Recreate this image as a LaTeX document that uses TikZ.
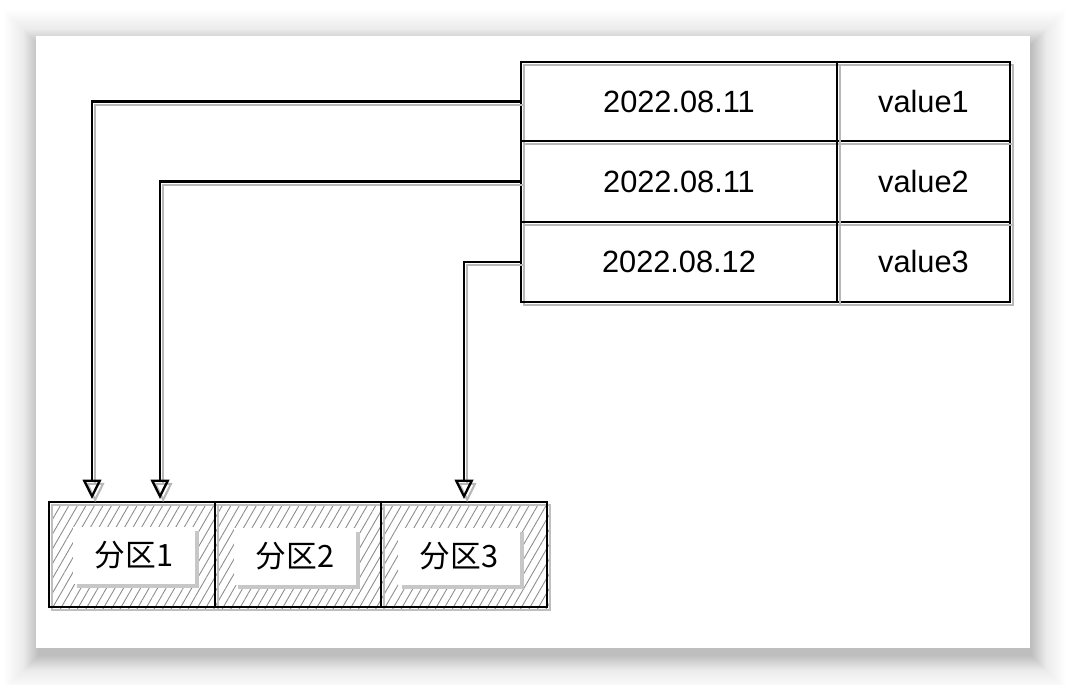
\documentclass[tikz,border=0pt]{standalone}
\usepackage{fontspec}
\setmainfont{Liberation Sans}
\newfontfamily\cjk{Noto Sans CJK SC}
\usetikzlibrary{arrows.meta,patterns.meta}

\tikzset{
  ghost/.style = {preaction={draw=black!28, line width=1.2pt, transform canvas={xshift=1.8pt,yshift=-1.8pt}}},
  cell/.style = {inner sep=0pt, minimum height=1.6cm, font=\fontsize{17.5}{21}\selectfont},
  part/.style = {draw, line width=1.3pt, minimum width=3.32cm, minimum height=2.1cm,
    preaction={draw=black!25, line width=1pt, pattern={Lines[angle=60,distance=4.2pt,line width=0.5pt]},
      pattern color=black!45, transform canvas={xshift=1.8pt,yshift=-1.8pt}}},
  tag/.style = {fill=white, minimum width=2.44cm, minimum height=1.14cm, inner sep=0pt,
    font=\cjk\fontsize{17.5}{21}\selectfont,
    preaction={fill=black!22, transform canvas={xshift=2.4pt,yshift=-2.4pt}}},
  link/.style = {line width=1.3pt, -{Triangle[open, length=11pt, width=10.5pt]}, ghost}
}

\begin{document}
\begin{tikzpicture}[x=0.02cm, y=-0.02cm]
    \useasboundingbox (0,0) rectangle (1066,684);
    % card with soft shadow
    \foreach \i in {0,...,34}
      \fill [black, opacity=0.004] (36-\i+2,36-\i+8) rectangle (1030+\i+2,648+\i+8);
    \foreach \i in {0,...,14}
      \fill [black, opacity=0.008] (36-\i+2,36-\i+8) rectangle (1030+\i+2,648+\i+8);
    \fill [white] (36,36) rectangle (1030,648);

    % table
    \draw [line width=1.3pt, ghost] (521,62) rectangle (1010,302);
    \draw [line width=1.3pt, ghost] (521,141) -- (1010,141) (521,222) -- (1010,222);
    \draw [line width=1.3pt, ghost] (837,62) -- (837,302);
    \node (d1) [cell, minimum width=6.32cm] at (679,101.5) {2022.08.11};
    \node (d2) [cell, minimum width=6.32cm] at (679,181.5) {2022.08.11};
    \node (d3) [cell, minimum width=6.32cm] at (679,262) {2022.08.12};
    \node (v1) [cell] at (923.5,101.5) {value1};
    \node (v2) [cell] at (923.5,181.5) {value2};
    \node (v3) [cell] at (923.5,262) {value3};

    % partitions
    \node (p1) [part] at (132,554.5) {};
    \node (p2) [part] at (298,554.5) {};
    \node (p3) [part] at (464,554.5) {};
    \node (l1) [tag] at (134,555) {分区1};
    \node (l2) [tag] at (295,556) {分区2};
    \node (l3) [tag] at (459,556) {分区3};

    % rows to partitions
    \coordinate (t1) at (92,499);
    \coordinate (t2) at (160,499);
    \coordinate (t3) at (464,499);
    \draw [link] (d1.west) -| (t1);
    \draw [link] (d2.west) -| (t2);
    \draw [link] (d3.west) -| (t3);
\end{tikzpicture}
\end{document}
